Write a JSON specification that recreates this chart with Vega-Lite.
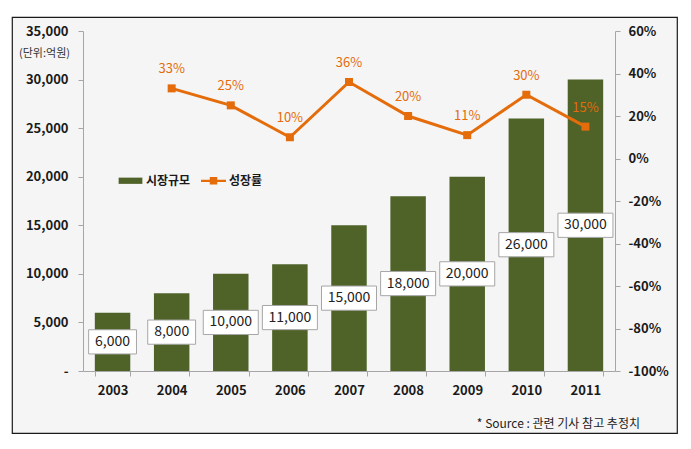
{
  "$schema": "https://vega.github.io/schema/vega-lite/v6.json",
  "width": 665,
  "height": 416,
  "autosize": {"type": "none"},
  "padding": {"left": 12, "top": 17, "right": 14, "bottom": 16},
  "background": "#ffffff",
  "config": {
    "view": {"stroke": "#1a1a1a", "strokeWidth": 1.2, "fill": "#f5f5f5"},
    "font": "Noto Sans CJK KR",
    "axis": {
      "labelFont": "Noto Sans CJK KR",
      "labelFontSize": 13,
      "labelFontWeight": "bold",
      "labelColor": "#1a1a1a",
      "domainColor": "#a6a6a6",
      "tickColor": "#a6a6a6",
      "tickSize": 5,
      "grid": false,
      "titleFont": "Noto Sans CJK KR"
    }
  },
  "data": {
    "values": [
      {"year": "2003", "value": 6000, "growth": null},
      {"year": "2004", "value": 8000, "growth": 0.33},
      {"year": "2005", "value": 10000, "growth": 0.25},
      {"year": "2006", "value": 11000, "growth": 0.10},
      {"year": "2007", "value": 15000, "growth": 0.36},
      {"year": "2008", "value": 18000, "growth": 0.20},
      {"year": "2009", "value": 20000, "growth": 0.11},
      {"year": "2010", "value": 26000, "growth": 0.30},
      {"year": "2011", "value": 30000, "growth": 0.15}
    ]
  },
  "title": {
    "text": "* Source : 관련 기사 참고 추정치",
    "orient": "bottom",
    "anchor": "end",
    "frame": "group",
    "font": "Noto Sans CJK KR",
    "fontSize": 12,
    "fontWeight": "normal",
    "color": "#222222",
    "offset": -14,
    "dx": -37
  },
  "encoding": {
    "x": {
      "field": "year",
      "type": "nominal",
      "scale": {"paddingInner": 0.4, "paddingOuter": 0.2, "range": [71, 603]},
      "axis": {"title": null, "labelAngle": 0, "tickBand": "extent", "labelPadding": 8, "offset": -62}
    }
  },
  "layer": [
    {
      "mark": {"type": "bar"},
      "encoding": {
        "y": {
          "field": "value",
          "type": "quantitative",
          "scale": {"domain": [0, 35000], "range": [354, 14]},
          "axis": {
            "orient": "left",
            "offset": -71,
            "values": [0, 5000, 10000, 15000, 20000, 25000, 30000, 35000],
            "labelExpr": "datum.value == 0 ? '-' : format(datum.value, ',')",
            "labelPadding": 10,
            "title": "(단위:억원)",
            "titleAngle": 0,
            "titleAlign": "center",
            "titleBaseline": "middle",
            "titleX": -39,
            "titleY": 36,
            "titleFontSize": 11,
            "titleFontWeight": "normal",
            "titleColor": "#333333"
          }
        },
        "color": {
          "datum": "시장규모",
          "scale": {"domain": ["시장규모", "성장률"], "range": ["#4f6228", "#e46c0a"]},
          "legend": {
            "title": null,
            "orient": "none",
            "legendX": 106,
            "legendY": 151,
            "direction": "horizontal",
            "padding": 0,
            "labelFont": "Noto Sans CJK KR",
            "labelFontSize": 12,
            "labelFontWeight": "bold",
            "labelColor": "#1a1a1a",
            "symbolSize": 625,
            "labelOffset": 3,
            "columnPadding": 10,
            "encode": {
              "symbols": {
                "update": {
                  "shape": {"signal": "datum.value === '시장규모' ? 'M-0.95,-0.25H0.95V0.25H-0.95Z' : 'M-1,-0.09H1V0.09H-1Z M-0.3,-0.3H0.3V0.3H-0.3Z'"},
                  "fill": {"signal": "datum.value === '시장규모' ? '#4f6228' : '#e46c0a'"},
                  "strokeWidth": {"value": 0},
                  "opacity": {"value": 1},
                  "fillOpacity": {"value": 1}
                }
              }
            }
          }
        }
      }
    },
    {
      "encoding": {
        "y": {
          "field": "value",
          "type": "quantitative",
          "scale": {"domain": [0, 70000], "range": [354, 14]},
          "axis": null
        }
      },
      "layer": [
        {
          "mark": {"type": "point", "filled": true, "fill": "#ffffff", "stroke": "#a6a6a6", "strokeWidth": 1, "opacity": 1, "size": 3025},
          "encoding": {
            "shape": {
              "condition": {"test": "datum.value >= 10000", "value": "M-1,-0.44H1V0.44H-1Z"},
              "value": "M-0.87,-0.44H0.87V0.44H-0.87Z"
            }
          }
        },
        {
          "mark": {"type": "text", "font": "Noto Sans CJK KR", "fontSize": 14, "color": "#222222", "baseline": "middle", "align": "center"},
          "encoding": {
            "text": {"field": "value", "type": "quantitative", "format": ","}
          }
        }
      ]
    },
    {
      "transform": [{"filter": "datum.growth != null"}],
      "encoding": {
        "y": {
          "field": "growth",
          "type": "quantitative",
          "scale": {"domain": [-1, 0.6], "range": [354, 14]},
          "axis": {
            "orient": "right",
            "offset": -62,
            "title": null,
            "labelExpr": "replace(format(datum.value, '.0%'), '\u2212', '-')",
            "values": [-1, -0.8, -0.6, -0.4, -0.2, 0, 0.2, 0.4, 0.6],
            "labelPadding": 8
          }
        }
      },
      "layer": [
        {
          "mark": {"type": "line", "strokeWidth": 3, "point": {"filled": true, "shape": "square", "size": 64}},
          "encoding": {
            "color": {"datum": "성장률"}
          }
        },
        {
          "mark": {"type": "text", "font": "Noto Sans CJK KR", "fontSize": 13, "color": "#e46c0a", "dy": -19, "baseline": "middle"},
          "encoding": {
            "text": {"field": "growth", "type": "quantitative", "format": ".0%"}
          }
        }
      ]
    }
  ],
  "resolve": {"scale": {"y": "independent"}}
}
